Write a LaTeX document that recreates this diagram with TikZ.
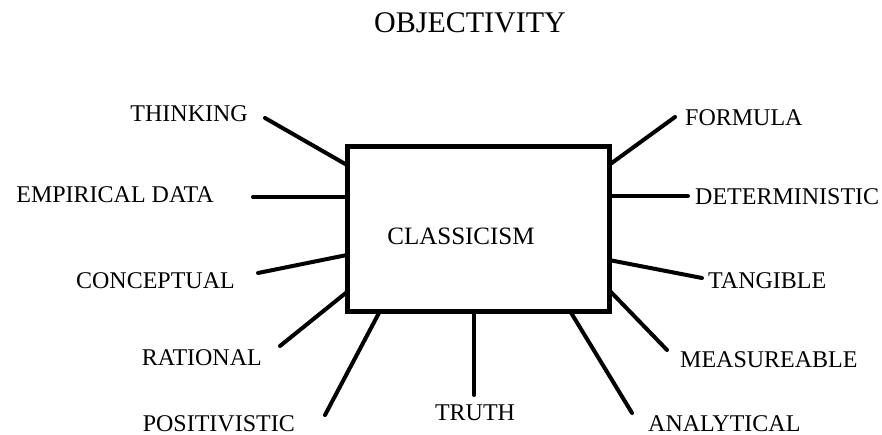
\documentclass[tikz,border=0pt]{standalone}
\usepackage{fontspec}
\setmainfont{Liberation Serif}
\begin{document}
\begin{tikzpicture}[x=1pt,y=-1pt,
  lbl/.style={inner sep=0pt, font=\fontsize{24}{24}\selectfont},
  lleft/.style={lbl, anchor=base east},
  lright/.style={lbl, anchor=base west},
  spoke/.style={line width=4pt, line cap=round},
  boxst/.style={draw, line width=5pt, minimum width=262pt, minimum height=164pt, inner sep=0pt}]
\useasboundingbox (0,0) rectangle (882,435);
% title and centre
\node[lbl, anchor=base, font=\fontsize{30}{30}\selectfont] (title) at (470,33) {OBJECTIVITY};
\node[boxst] (box) at (478,229) {};
\node[lbl, anchor=base, font=\fontsize{25}{25}\selectfont] (classicism) at (461,245) {CLASSICISM};
% labels
\node[lleft] (thinking) at (248,122) {THINKING};
\node[lleft] (empirical) at (214,203) {EMPIRICAL DATA};
\node[lleft] (conceptual) at (235,288) {CONCEPTUAL};
\node[lleft] (rational) at (262,365) {RATIONAL};
\node[lleft] (positivistic) at (295,431) {POSITIVISTIC};
\node[lbl, anchor=base] (truth) at (475,420) {TRUTH};
\node[lright] (analytical) at (648,431) {ANALYTICAL};
\node[lright] (measureable) at (680,367) {MEASUREABLE};
\node[lright] (tangible) at (708,288) {TANGIBLE};
\node[lright] (deterministic) at (695,205) {DETERMINISTIC};
\node[lright] (formula) at (685,126) {FORMULA};
% spoke ends
\coordinate (thinkingO) at (265,118);  \coordinate (thinkingI) at (347,165);
\coordinate (empiricalO) at (253,197); \coordinate (empiricalI) at (347,197);
\coordinate (conceptualO) at (258,273); \coordinate (conceptualI) at (347,255);
\coordinate (rationalO) at (280,346); \coordinate (rationalI) at (347,292);
\coordinate (positivisticO) at (325,415); \coordinate (positivisticI) at (380,311);
\coordinate (truthO) at (474,395); \coordinate (truthI) at (474,311);
\coordinate (analyticalO) at (632,413); \coordinate (analyticalI) at (570,311);
\coordinate (measureableO) at (667,350); \coordinate (measureableI) at (609,290);
\coordinate (tangibleO) at (702,278); \coordinate (tangibleI) at (609,260);
\coordinate (deterministicO) at (688,196); \coordinate (deterministicI) at (609,196);
\coordinate (formulaO) at (675,117); \coordinate (formulaI) at (609,165);
\foreach \n in {thinking,empirical,conceptual,rational,positivistic,truth,analytical,measureable,tangible,deterministic,formula}
  \draw[spoke] (\n O) -- (\n I);
\end{tikzpicture}
\end{document}
